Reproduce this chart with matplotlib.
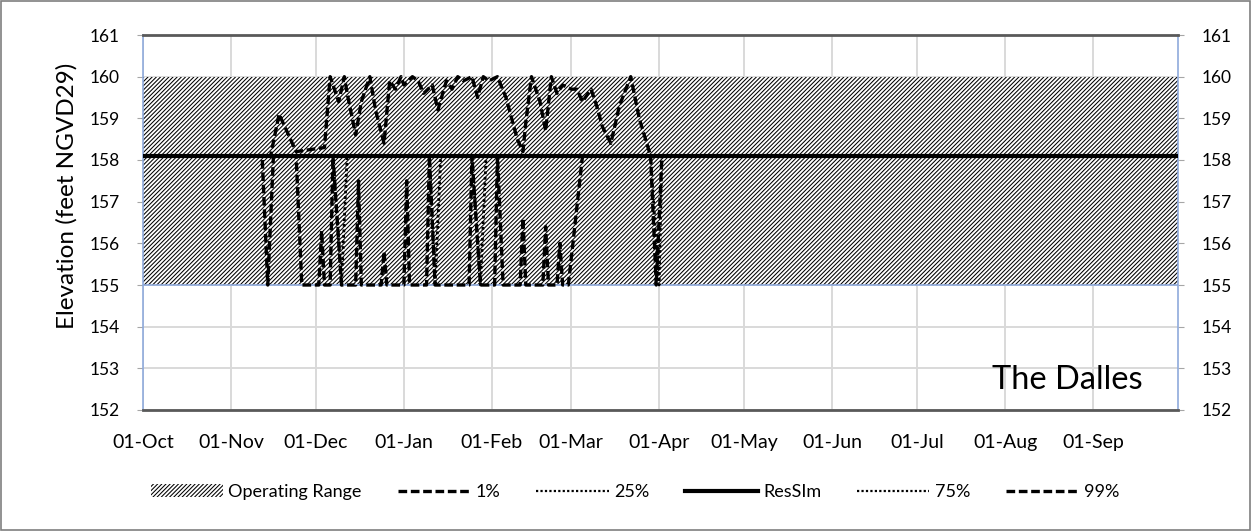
import matplotlib
matplotlib.use('Agg')
import matplotlib.pyplot as plt
import matplotlib.dates as mdates
import numpy as np
from matplotlib.patches import Patch, Rectangle
from matplotlib.lines import Line2D

plt.rcParams['font.family'] = ['Lato', 'DejaVu Sans']
plt.rcParams['hatch.linewidth'] = 0.75

# ---------------- data ----------------
range_dates = ['2000-10-01', '2001-10-01']
range_low = [155.0, 155.0]
range_high = [160.0, 160.0]

ressim_dates = ['2000-10-01', '2001-10-01']
ressim_vals = [158.1, 158.1]

p99_dates = ['2000-10-01', '2000-11-15', '2000-11-18', '2000-11-24', '2000-12-04', '2000-12-06',
             '2000-12-09', '2000-12-11', '2000-12-12', '2000-12-15', '2000-12-17', '2000-12-20',
             '2000-12-22', '2000-12-25', '2000-12-27', '2000-12-29', '2000-12-31', '2001-01-01',
             '2001-01-04', '2001-01-06', '2001-01-08', '2001-01-11', '2001-01-13', '2001-01-16',
             '2001-01-18', '2001-01-20', '2001-01-22', '2001-01-25', '2001-01-27', '2001-01-29',
             '2001-01-31', '2001-02-03', '2001-02-06', '2001-02-08', '2001-02-10', '2001-02-12',
             '2001-02-13', '2001-02-15', '2001-02-18', '2001-02-20', '2001-02-22', '2001-02-24',
             '2001-02-26', '2001-03-01', '2001-03-03', '2001-03-05', '2001-03-08', '2001-03-10',
             '2001-03-12', '2001-03-15', '2001-03-18', '2001-03-22', '2001-03-25', '2001-03-29',
             '2001-09-30']
p99_vals = [158.1, 158.1, 159.1, 158.2, 158.3, 160.0,
            159.4, 160.0, 159.6, 158.6, 159.4, 160.0,
            159.2, 158.4, 159.9, 159.7, 160.0, 159.8,
            160.0, 159.9, 159.6, 159.8, 159.2, 159.9,
            159.7, 160.0, 159.9, 160.0, 159.5, 160.0,
            159.9, 160.0, 159.5, 159.0, 158.5, 158.2,
            158.9, 160.0, 159.4, 158.7, 160.0, 159.6,
            159.8, 159.7, 159.7, 159.4, 159.7, 159.3,
            158.8, 158.4, 159.3, 160.0, 159.0, 158.1,
            158.1]

p01_dates = ['2000-10-01', '2000-11-12', '2000-11-14', '2000-11-16', '2000-11-24', '2000-11-26',
             '2000-12-02', '2000-12-03', '2000-12-04', '2000-12-06', '2000-12-07', '2000-12-10',
             '2000-12-15', '2000-12-16', '2000-12-17', '2000-12-24', '2000-12-25', '2000-12-26',
             '2001-01-01', '2001-01-02', '2001-01-03', '2001-01-09', '2001-01-10', '2001-01-12',
             '2001-01-24', '2001-01-25', '2001-01-28', '2001-02-02', '2001-02-03', '2001-02-05',
             '2001-02-11', '2001-02-12', '2001-02-13', '2001-02-19', '2001-02-20', '2001-02-21',
             '2001-02-24', '2001-02-25', '2001-02-26', '2001-02-28', '2001-03-05', '2001-03-29',
             '2001-03-31', '2001-04-02', '2001-09-30']
p01_vals = [158.1, 158.1, 155.0, 158.1, 158.1, 155.0,
            155.0, 156.3, 155.0, 155.0, 158.1, 155.0,
            155.0, 157.5, 155.0, 155.0, 155.8, 155.0,
            155.0, 157.5, 155.0, 155.0, 158.1, 155.0,
            155.0, 158.1, 155.0, 155.0, 158.1, 155.0,
            155.0, 156.6, 155.0, 155.0, 156.4, 155.0,
            155.0, 156.0, 155.0, 155.0, 158.1, 158.1,
            155.0, 158.1, 158.1]

p25_dates = ['2000-10-01', '2000-12-07', '2000-12-10', '2000-12-12', '2001-01-10', '2001-01-12',
             '2001-01-14', '2001-01-25', '2001-01-28', '2001-01-30', '2001-03-29', '2001-04-01',
             '2001-04-02', '2001-09-30']
p25_vals = [158.1, 158.1, 155.0, 158.1, 158.1, 155.0,
            158.1, 158.1, 155.0, 158.1, 158.1, 155.0,
            158.1, 158.1]

p75_dates = ['2000-10-01', '2001-09-30']
p75_vals = [158.1, 158.1]

x_ticks = ['2000-10-01', '2000-11-01', '2000-12-01', '2001-01-01', '2001-02-01', '2001-03-01',
           '2001-04-01', '2001-05-01', '2001-06-01', '2001-07-01', '2001-08-01', '2001-09-01']
y_ticks = [152, 153, 154, 155, 156, 157, 158, 159, 160, 161]
legend_labels = ['Operating Range', '1%', '25%', 'ResSIm', '75%', '99%']


def d(lst):
    return np.array(lst, dtype='datetime64[D]')


# ---------------- figure ----------------
W, H = 1251, 531
fig = plt.figure(figsize=(W / 100, H / 100), dpi=100)
ax = fig.add_axes([143 / W, 1 - 410 / H, (1178 - 143) / W, (410 - 35) / H])

ax.set_xlim(np.datetime64('2000-10-01'), np.datetime64('2001-10-01'))
ax.set_ylim(152, 161)
ax.set_yticks(y_ticks)
ax.set_xticks(mdates.date2num(d(x_ticks)))
ax.xaxis.set_major_formatter(mdates.DateFormatter('%d-%b'))

ax.grid(True, color='#d9d9d9', lw=1.4, zorder=0)
ax.set_axisbelow(True)

ax.fill_between(d(range_dates), range_low, range_high, facecolor='white',
                edgecolor='black', hatch='////////', linewidth=0, zorder=2)
ax.plot(d(range_dates), range_low, color='#8faadc', lw=1.2, zorder=2.5)

dash = (0, (2.6, 1.1))
dot = (0, (1.0, 1.0))
ax.plot(d(p75_dates), p75_vals, color='black', lw=2.0, linestyle=dot, zorder=3)
ax.plot(d(p25_dates), p25_vals, color='black', lw=2.0, linestyle=dot, zorder=3)
ax.plot(d(p01_dates), p01_vals, color='black', lw=2.4, linestyle=dash, zorder=4)
ax.plot(d(p99_dates), p99_vals, color='black', lw=2.4, linestyle=dash, zorder=4)
ax.plot(d(ressim_dates), ressim_vals, color='black', lw=3.0, solid_capstyle='butt', zorder=5)

# spines
for s in ['top', 'bottom']:
    ax.spines[s].set_color('#595959')
    ax.spines[s].set_linewidth(2.0)
for s in ['left', 'right']:
    ax.spines[s].set_color('#8faadc')
    ax.spines[s].set_linewidth(1.2)

ax.tick_params(axis='x', length=0, pad=17, labelsize=14)
ax.tick_params(axis='y', left=True, right=True, labelleft=True, labelright=True,
               length=4, color='#a6a6a6', pad=13, labelsize=12.5)

fig.text(67 / W, 1 - 196 / H, 'Elevation (feet NGVD29)', rotation=90,
         ha='center', va='center', fontsize=17.5)

ax.text(0.966, 0.08, 'The Dalles', transform=ax.transAxes, ha='right', va='center',
        fontsize=23.5, zorder=6)

handles = [Patch(facecolor='white', edgecolor='black', hatch='////////', linewidth=0),
           Line2D([], [], color='black', lw=2.4, linestyle=dash),
           Line2D([], [], color='black', lw=1.6, linestyle=dot),
           Line2D([], [], color='black', lw=3.0),
           Line2D([], [], color='black', lw=1.6, linestyle=dot),
           Line2D([], [], color='black', lw=2.4, linestyle=dash)]
fig.legend(handles, legend_labels, loc='center', bbox_to_anchor=(635 / W, 1 - 492 / H),
           ncol=6, frameon=False, fontsize=13, handlelength=4.0, columnspacing=2.0,
           handletextpad=0.3)

fig.patches.append(Rectangle((0.0008, 0.0015), 0.9984, 0.997, transform=fig.transFigure,
                             fill=False, edgecolor='#7f7f7f', lw=1.2))

fig.savefig('out.png', dpi=100)
